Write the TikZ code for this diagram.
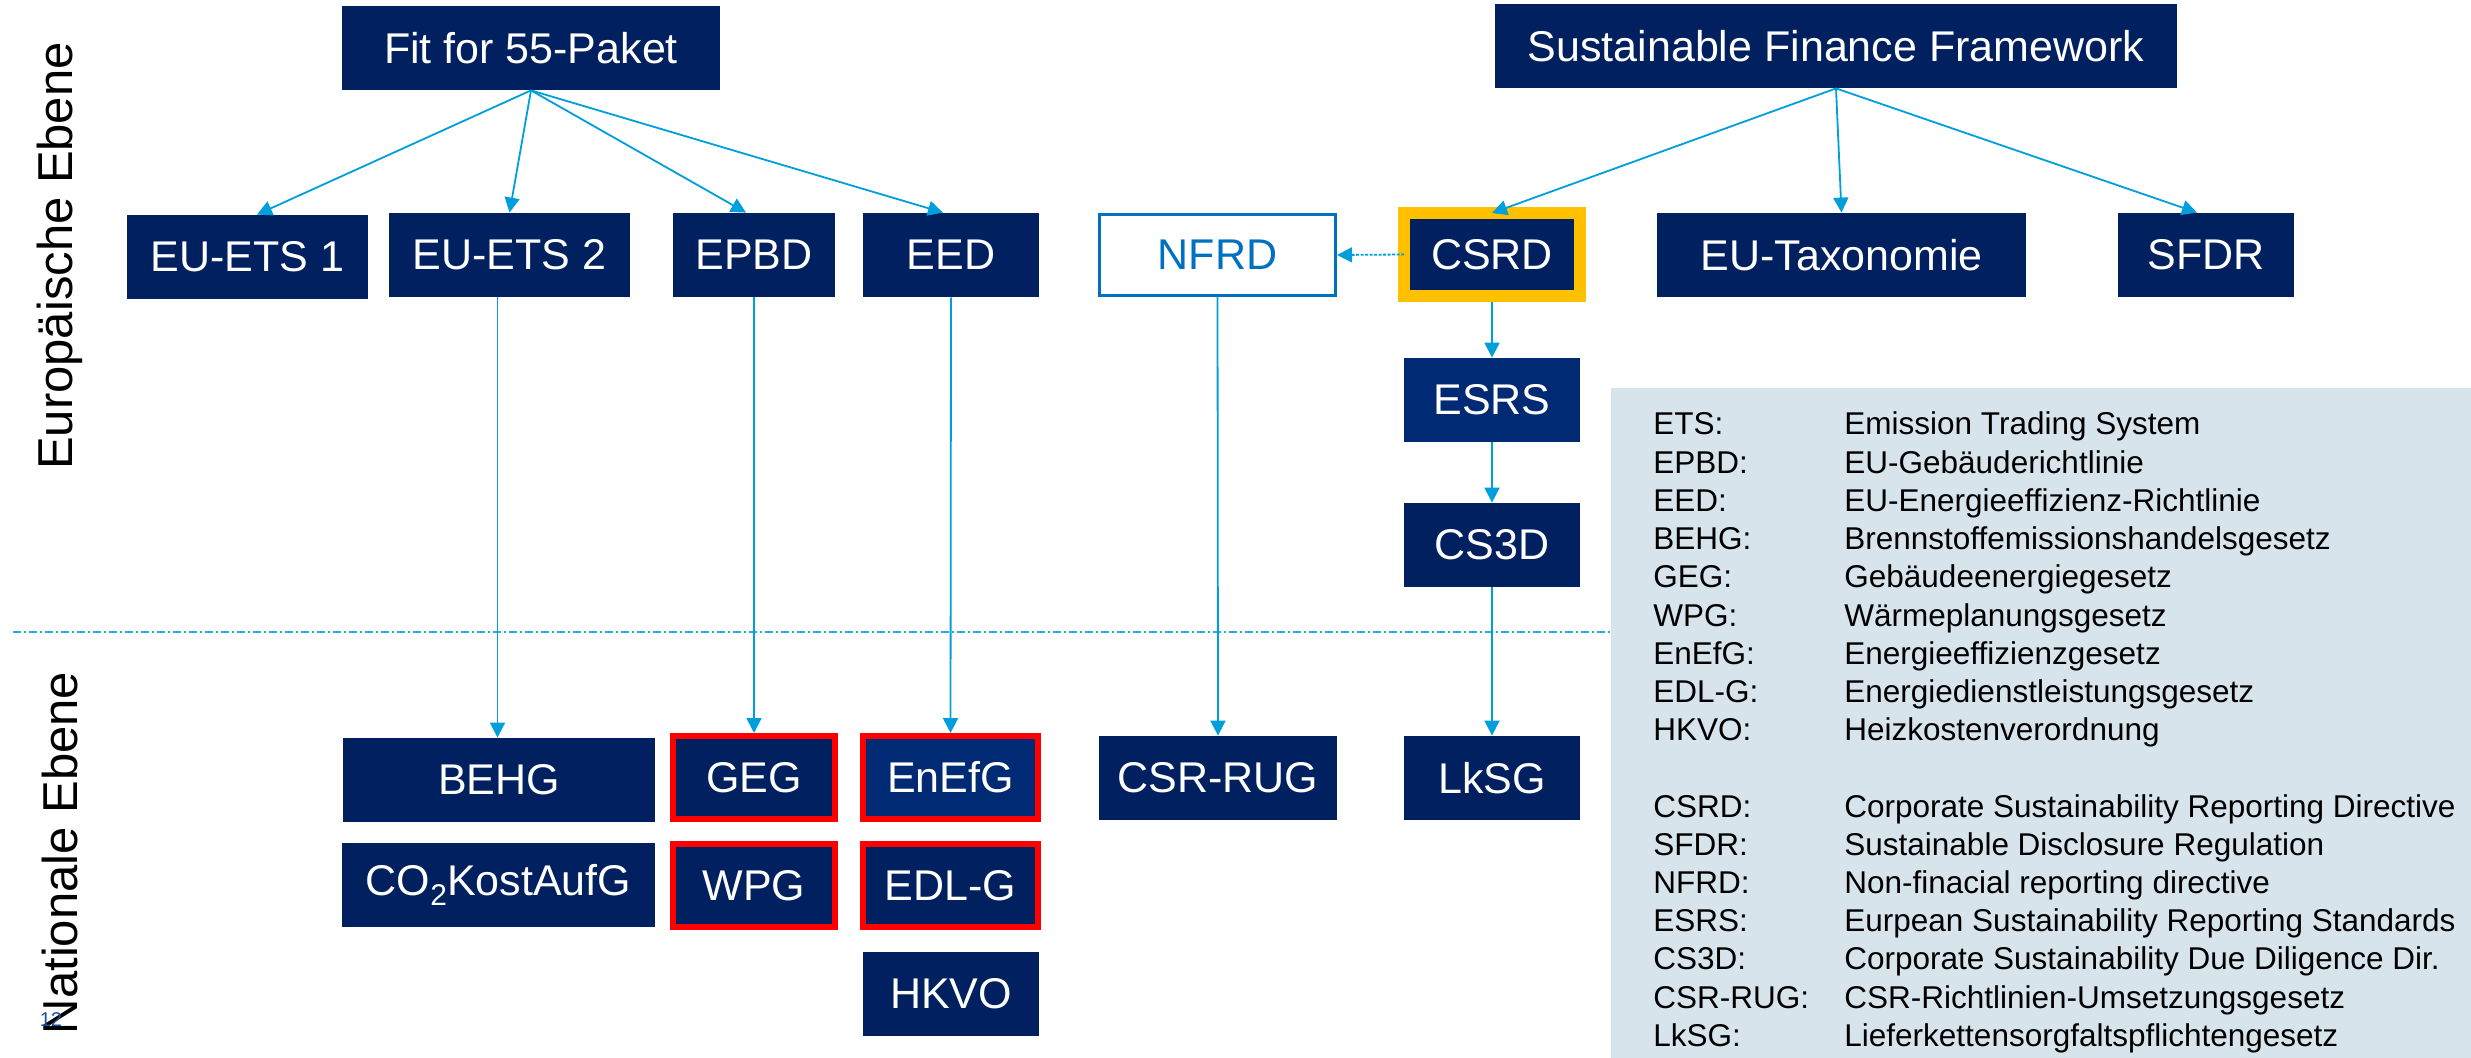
\documentclass[tikz,border=0pt]{standalone}
\usepackage{fontspec}
\setmainfont{Liberation Sans}
\usetikzlibrary{arrows.meta,calc}
\definecolor{navy}{RGB}{0,32,96}
\definecolor{navyb}{RGB}{0,42,115}
\definecolor{arrowc}{RGB}{0,158,219}
\definecolor{sepc}{RGB}{40,170,225}
\definecolor{nfrdc}{RGB}{0,112,192}
\definecolor{legbg}{RGB}{216,228,236}
\definecolor{csrdy}{RGB}{255,192,0}
\definecolor{redb}{RGB}{255,0,0}
\definecolor{pagec}{RGB}{31,78,155}
\begin{document}
\begin{tikzpicture}[x=0.5pt,y=-0.5pt,
  box/.style={fill=navy,text=white,inner sep=0pt,minimum height=42pt,
    font=\fontsize{21.5}{25}\selectfont},
  redbox/.style={box,draw=redb,line width=3pt,minimum height=41.5pt},
  nfrdbox/.style={box,fill=white,text=nfrdc,draw=nfrdc,line width=1.5pt,minimum height=40.5pt},
  arr/.style={draw=arrowc,line width=0.9pt,-{Triangle[width=7.5pt,length=7.5pt]}},
  sepline/.style={draw=sepc,line width=1pt,dash pattern=on 4pt off 1.5pt on 1pt off 1.5pt},
  leg/.style={anchor=base west,inner sep=0pt,font=\fontsize{15.75}{19}\selectfont},
  side/.style={rotate=90,inner sep=0pt,font=\fontsize{24.5}{28}\selectfont}]
\useasboundingbox (0,0) rectangle (2471,1058);

% side labels
\node[side] (eu) at (60,256) {Europäische Ebene};
\node[side] (nat) at (60,853) {Nationale Ebene};
\node[text=pagec,inner sep=0pt,font=\fontsize{10}{12}\selectfont] (pg) at (51,1020) {12};

% separator
\coordinate (sepL) at (13,632);
\coordinate (sepR) at (1611,632);
\draw[sepline] (sepL) -- (sepR);

% legend
\node[fill=legbg,inner sep=0pt,minimum width=430pt,minimum height=335pt,anchor=north west] (legend) at (1611,388) {};
\foreach \a/\b [count=\i from 0] in {ETS:/Emission Trading System,EPBD:/EU-Gebäuderichtlinie,EED:/EU-Energieeffizienz-Richtlinie,BEHG:/Brennstoffemissionshandelsgesetz,GEG:/Gebäudeenergiegesetz,WPG:/Wärmeplanungsgesetz,EnEfG:/Energieeffizienzgesetz,EDL-G:/Energiedienstleistungsgesetz,HKVO:/Heizkostenverordnung}{
  \node[leg] (la\i) at (1653,435+38.2*\i) {\a};
  \node[leg] (lb\i) at (1844,435+38.2*\i) {\b};
}
\foreach \a/\b [count=\i from 10] in {CSRD:/Corporate Sustainability Reporting Directive,SFDR:/Sustainable Disclosure Regulation,NFRD:/Non-finacial reporting directive,ESRS:/Eurpean Sustainability Reporting Standards,CS3D:/Corporate Sustainability Due Diligence Dir.,CSR-RUG:/CSR-Richtlinien-Umsetzungsgesetz,LkSG:/Lieferkettensorgfaltspflichtengesetz}{
  \node[leg] (la\i) at (1653,435+38.2*\i) {\a};
  \node[leg] (lb\i) at (1844,435+38.2*\i) {\b};
}

% top level
\node[box,minimum width=189pt] (fit) at (531,48) {Fit for 55-Paket};
\node[box,minimum width=341pt] (sff) at (1836,46) {Sustainable Finance Framework};

% EU level
\node[box,minimum width=120.5pt] (ets1) at (247.5,257) {EU-ETS 1};
\node[box,minimum width=120.5pt] (ets2) at (509.5,255) {EU-ETS 2};
\node[box,minimum width=81pt] (epbd) at (754,255) {EPBD};
\node[box,minimum width=88pt] (eed) at (951,255) {EED};
\node[nfrdbox,minimum width=118pt] (nfrd) at (1217.5,255) {NFRD};
\node[box,draw=csrdy,line width=6pt,minimum width=88pt,minimum height=41.5pt] (csrd) at (1492,254.5) {CSRD};
\node[box,minimum width=184.5pt] (tax) at (1841.5,255) {EU-Taxonomie};
\node[box,minimum width=88pt] (sfdr) at (2206,255) {SFDR};
\node[box,fill=navyb,minimum width=88pt] (esrs) at (1492,400) {ESRS};
\node[box,minimum width=88pt] (cs3d) at (1492,545) {CS3D};

% national level
\node[box,minimum width=88pt] (lksg) at (1492,778) {LkSG};
\node[box,minimum width=119pt] (csrrug) at (1218,778) {CSR-RUG};
\node[box,minimum width=156pt] (behg) at (499,780) {BEHG};
\node[box,minimum width=156.5pt] (co2) at (498.5,885) {CO\raisebox{-5pt}{\fontsize{15}{17}\selectfont 2}KostAufG};
\node[redbox,minimum width=81pt] (geg) at (754,777.5) {GEG};
\node[redbox,minimum width=81pt] (wpg) at (754,885.5) {WPG};
\node[redbox,fill=navyb,minimum width=87.5pt] (enefg) at (950.5,777.5) {EnEfG};
\node[redbox,minimum width=87.5pt] (edlg) at (950.5,885.5) {EDL-G};
\node[box,minimum width=88pt] (hkvo) at (951,994) {HKVO};

% connectors
\draw[arr] (fit.south) -- ([xshift=4.75pt]ets1.north);
\draw[arr] (fit.south) -- (ets2.north);
\draw[arr] (fit.south) -- ([xshift=-4pt]epbd.north);
\draw[arr] (fit.south) -- ([xshift=-4pt]eed.north);
\draw[arr] (sff.south) -- ([yshift=-3pt]csrd.north);
\draw[arr] (sff.south) -- (tax.north);
\draw[arr] (sff.south) -- ([xshift=-4.5pt]sfdr.north);
\draw[arr,dash pattern=on 1.5pt off 0.75pt] ([xshift=3pt]csrd.west) -- (nfrd.east);
\coordinate (ets2b) at ([xshift=-6pt]ets2.south);
\draw[arr] (ets2b) -- (behg.north -| ets2b);
\draw[arr] (epbd.south) -- (geg.north);
\draw[arr] (eed.south) -- (enefg.north);
\draw[arr] (nfrd.south) -- (csrrug.north);
\draw[arr] (csrd.south) -- (esrs.north);
\draw[arr] (esrs.south) -- (cs3d.north);
\draw[arr] (cs3d.south) -- (lksg.north);
\end{tikzpicture}
\end{document}
